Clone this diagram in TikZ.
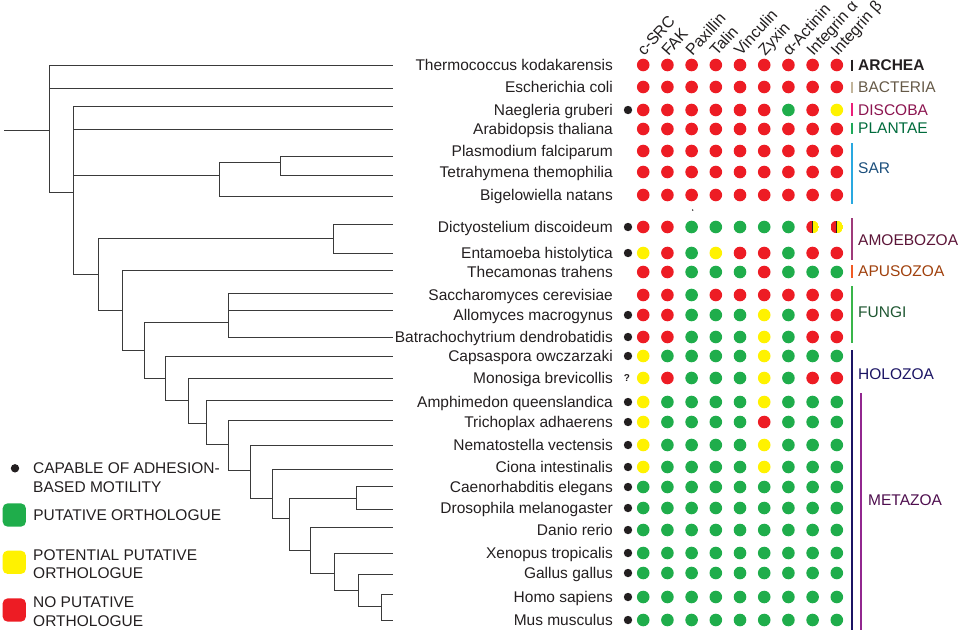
\documentclass[tikz,border=0pt]{standalone}
\usepackage{fontspec}
\setmainfont{Liberation Sans}
\usetikzlibrary{positioning}
\definecolor{dotR}{HTML}{ED1C24}
\definecolor{dotG}{HTML}{1FAD4B}
\definecolor{dotY}{HTML}{FFF200}
\definecolor{inkblack}{HTML}{231F20}
\definecolor{treegray}{HTML}{3A3A3A}
\definecolor{barArch}{HTML}{231F20}
\definecolor{txtArch}{HTML}{231F20}
\definecolor{barBact}{HTML}{C2B59B}
\definecolor{txtBact}{HTML}{665A48}
\definecolor{barDisc}{HTML}{EC1E79}
\definecolor{txtDisc}{HTML}{8C1550}
\definecolor{barPlan}{HTML}{1DAA5A}
\definecolor{txtPlan}{HTML}{006B3C}
\definecolor{barSar}{HTML}{29A8E0}
\definecolor{txtSar}{HTML}{1C4F7C}
\definecolor{barAmoe}{HTML}{9E3A7A}
\definecolor{txtAmoe}{HTML}{5C1538}
\definecolor{barApus}{HTML}{F15A24}
\definecolor{txtApus}{HTML}{A0410D}
\definecolor{barFung}{HTML}{39B54A}
\definecolor{txtFung}{HTML}{1E5631}
\definecolor{barHolo}{HTML}{1B1464}
\definecolor{txtHolo}{HTML}{1B1464}
\definecolor{barMeta}{HTML}{92278F}
\definecolor{txtMeta}{HTML}{4E0E4E}

\begin{document}
\begin{tikzpicture}[x=1pt, y=-1pt,
    branch/.style={draw=treegray, line width=0.9pt},
    dot/.style={circle, inner sep=0pt, minimum size=12.6pt},
    half/.style={path picture={
        \fill[dotR] (path picture bounding box.south west) rectangle (path picture bounding box.north);
        \fill[dotY] (path picture bounding box.south) rectangle (path picture bounding box.north east);
        \draw[inkblack, line width=0.8pt] (path picture bounding box.south) -- (path picture bounding box.north);}},
    motile/.style={circle, fill=inkblack, inner sep=0pt, minimum size=8.4pt},
    species/.style={anchor=base east, inner sep=0pt, text=inkblack, font=\fontsize{15.5}{18.5}\selectfont},
    protein/.style={anchor=base west, rotate=48, inner sep=0pt, text=inkblack, font=\fontsize{16}{18}\selectfont},
    group/.style={anchor=base west, inner sep=0pt, font=\fontsize{15.5}{18.5}\selectfont},
    groupbar/.style={line width=2pt},
    key/.style={rectangle, rounded corners=5pt, minimum size=23.3pt, inner sep=0pt},
    keytext/.style={anchor=north west, align=left, inner sep=0pt, text=inkblack, font=\fontsize{15.5}{18.5}\selectfont}
]
\useasboundingbox (0,0) rectangle (962,633);

% tree
\coordinate (root) at (4,130.7);
\foreach \n/\x/\y in {n1/49.3/130.7, n2/73.3/192.3, sar/219/175, pt/280.7/162.3,
    n3/98.3/274, de/333.3/238.3, n4/122.7/310, n5/144.3/350.7, fu/228.3/322.7,
    n6/165.7/378.3, n7/188.3/400, n8/206.7/423, n9/228.3/444.3, n10/250.7/470,
    n11/272.3/498.3, n12/289.3/518.3, cd/356/498.3, n13/310.7/550.7,
    n14/334.3/573.3, n15/358.3/590, n16/381/606.7}
    \coordinate (\n) at (\x,\y);
\foreach \i/\y in {1/65, 2/88.3, 3/106.7, 4/129, 5/156, 6/175.3, 7/196.7,
    8/224.3, 9/253.3, 10/270, 11/293.3, 12/310.7, 13/337.7, 14/356.7, 15/378.3,
    16/400.7, 17/420.7, 18/445, 19/469, 20/486, 21/509.3, 22/527.7, 23/553.3,
    24/574, 25/594, 26/620}
    \coordinate (lf\i) at (393,\y);
\draw[branch] (root) -- (n1);
\foreach \p/\c in {n1/lf1, n1/lf2, n1/n2, n2/lf3, n2/lf4, n2/sar, n2/n3,
    sar/pt, sar/lf7, pt/lf5, pt/lf6, n3/de, n3/n4, de/lf8, de/lf9,
    n4/lf10, n4/n5, n5/fu, n5/n6, fu/lf11, fu/lf12, fu/lf13,
    n6/lf14, n6/n7, n7/lf15, n7/n8, n8/lf16, n8/n9, n9/lf17, n9/n10,
    n10/lf18, n10/n11, n11/lf19, n11/n12, n12/cd, n12/n13, cd/lf20, cd/lf21,
    n13/lf22, n13/n14, n14/lf23, n14/n15, n15/lf24, n15/n16, n16/lf25, n16/lf26}
    \draw[branch] (\p) |- (\c);

% proteins
\foreach \p [count=\j] in {c-SRC, FAK, Paxillin, Talin, Vinculin, Zyxin, α-Actinin, Integrin α, Integrin β}
    \node[protein] (pr\j) at (620+24.2*\j,57) {\p};

% species and orthologues
\foreach \i/\y/\name/\mot/\cols in {
    1/65/Thermococcus kodakarensis/0/{R,R,R,R,R,R,R,R,R},
    2/87/Escherichia coli/0/{R,R,R,R,R,R,R,R,R},
    3/110/Naegleria gruberi/1/{R,R,R,R,R,R,G,R,Y},
    4/129/Arabidopsis thaliana/0/{R,R,R,R,R,R,R,R,R},
    5/151/Plasmodium falciparum/0/{R,R,R,R,R,R,R,R,R},
    6/172/Tetrahymena themophilia/0/{R,R,R,R,R,R,R,R,R},
    7/195/Bigelowiella natans/0/{R,R,R,R,R,R,R,R,R},
    8/227/Dictyostelium discoideum/1/{R,R,G,G,G,G,G,H,H},
    9/253/Entamoeba histolytica/1/{Y,R,G,Y,R,R,G,R,R},
    10/272/Thecamonas trahens/0/{R,R,G,G,G,R,G,G,G},
    11/295/Saccharomyces cerevisiae/0/{R,R,G,R,R,R,R,R,R},
    12/315/Allomyces macrogynus/1/{R,R,G,G,G,Y,G,R,R},
    13/337/Batrachochytrium dendrobatidis/1/{R,R,G,G,G,Y,G,R,R},
    14/356/Capsaspora owczarzaki/1/{Y,G,G,G,G,Y,G,G,G},
    15/378/Monosiga brevicollis/2/{Y,R,G,G,G,Y,G,R,R},
    16/402/Amphimedon queenslandica/1/{Y,G,G,G,G,Y,G,G,G},
    17/422/Trichoplax adhaerens/1/{Y,G,G,G,G,R,G,G,G},
    18/445/Nematostella vectensis/1/{Y,G,G,G,G,Y,G,G,G},
    19/467/Ciona intestinalis/1/{Y,G,G,G,G,Y,G,G,G},
    20/487/Caenorhabditis elegans/1/{G,G,G,G,G,G,G,G,G},
    21/508/Drosophila melanogaster/1/{G,G,G,G,G,G,G,G,G},
    22/530/Danio rerio/1/{G,G,G,G,G,G,G,G,G},
    23/553/Xenopus tropicalis/1/{G,G,G,G,G,G,G,G,G},
    24/573/Gallus gallus/1/{G,G,G,G,G,G,G,G,G},
    25/597/Homo sapiens/1/{G,G,G,G,G,G,G,G,G},
    26/620/Mus musculus/1/{G,G,G,G,G,G,G,G,G}}{
    \node[species] (sp\i) at (613,\y+5.6) {\name};
    \ifcase\mot\or
        \node[motile] (mot\i) at (628,\y) {};
    \or
        \node[inner sep=0pt, text=inkblack, font=\fontsize{10}{10}\bfseries\selectfont] (mot\i) at (627,\y) {?};
    \fi
    \foreach \c [count=\j] in \cols {
        \if\c H
            \node[dot, half] (d\i-\j) at (619+24.2*\j,\y) {};
        \else
            \node[dot, fill=dot\c] (d\i-\j) at (619+24.2*\j,\y) {};
        \fi
    }
}
\fill[inkblack] (692.7,210) circle (0.8);

% groups
\foreach \g/\lab/\bc/\tc/\ly/\ya/\yb in {
    arch/{\textbf{ARCHEA}}/barArch/txtArch/65/59.5/71,
    bact/BACTERIA/barBact/txtBact/87/81.7/93.3,
    disc/DISCOBA/barDisc/txtDisc/110/103/115.7,
    plan/PLANTAE/barPlan/txtPlan/128/122.7/134,
    sar/SAR/barSar/txtSar/168.3/143/204,
    amoe/AMOEBOZOA/barAmoe/txtAmoe/240/218/260,
    apus/APUSOZOA/barApus/txtApus/271/265/278,
    fung/FUNGI/barFung/txtFung/312/286/343,
    holo/HOLOZOA/barHolo/txtHolo/374/350/630}{
    \draw[groupbar, draw=\bc] (852,\ya) -- (852,\yb);
    \node[group, text=\tc] (gr\g) at (858,\ly+5.6) {\lab};
}
\draw[groupbar, draw=barMeta] (861,393) -- (861,630);
\node[group, text=txtMeta] (grmeta) at (868,505.6) {METAZOA};

% legend
\node[motile] (keymot) at (15,468.3) {};
\node[keytext] (keymottxt) at (33,462.7) {CAPABLE OF ADHESION-\\BASED MOTILITY};
\node[key, fill=dotG] (keyG) at (14.3,515) {};
\node[keytext, anchor=west, right=7pt of keyG] (keyGtxt) {PUTATIVE ORTHOLOGUE};
\node[key, fill=dotY] (keyY) at (14.3,562.3) {};
\node[keytext] (keyYtxt) at (33,549.4) {POTENTIAL PUTATIVE\\ORTHOLOGUE};
\node[key, fill=dotR] (keyR) at (14.3,610) {};
\node[keytext] (keyRtxt) at (33,596.7) {NO PUTATIVE\\ORTHOLOGUE};
\end{tikzpicture}
\end{document}
